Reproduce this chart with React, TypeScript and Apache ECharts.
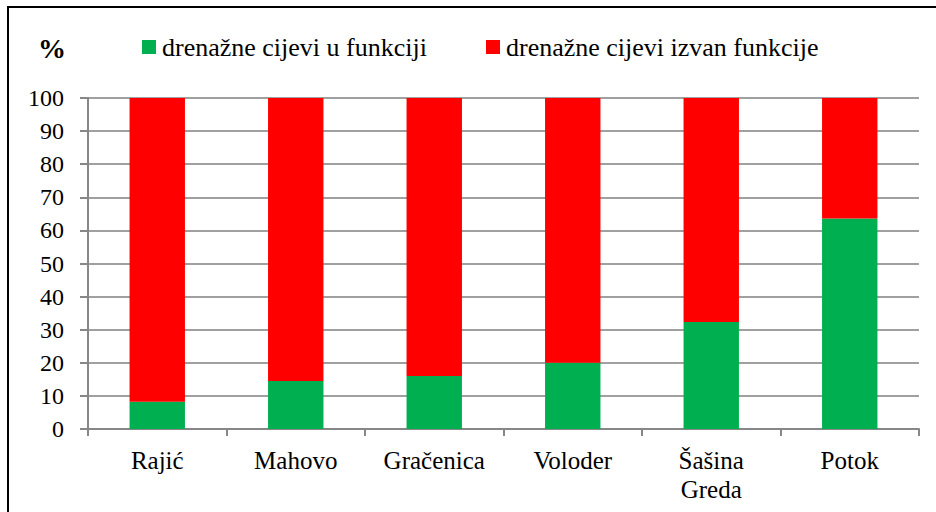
import React, { useEffect, useRef } from "react";
import * as echarts from "echarts";

const categories = ["Rajić", "Mahovo", "Gračenica", "Voloder", "Šašina\nGreda", "Potok"];
const inFunction = [8.2, 14.5, 16, 20, 32.3, 63.6];
const outOfFunction = [91.8, 85.5, 84, 80, 67.7, 36.4];
const seriesNames = ["drenažne cijevi u funkciji", "drenažne cijevi izvan funkcije"];
const seriesColors = ["#00B050", "#FF0000"];
const yTicks = [0, 10, 20, 30, 40, 50, 60, 70, 80, 90, 100];

const FONT = "Liberation Serif";
const GRID = { left: 88, right: 17, top: 98, bottom: 83 };

export default function App() {
  const ref = useRef<HTMLDivElement>(null);
  useEffect(() => {
    document.body.style.margin = "0";
    const chart = echarts.init(ref.current!, null, { renderer: "svg" });
    chart.setOption({
      animation: false,
      backgroundColor: "#ffffff",
      grid: GRID,
      xAxis: {
        type: "category",
        data: categories,
        axisLine: { lineStyle: { color: "#878787", width: 2 } },
        axisTick: { show: true, length: 7, lineStyle: { color: "#878787", width: 2 } },
        axisLabel: { show: false },
      },
      yAxis: {
        type: "value",
        min: 0,
        max: 100,
        interval: 10,
        axisLine: { show: true, lineStyle: { color: "#878787", width: 2 } },
        axisTick: { show: true, length: 8, lineStyle: { color: "#878787", width: 2 } },
        axisLabel: { show: false },
        splitLine: { lineStyle: { color: "#a0a0a0", width: 2 } },
      },
      series: [
        {
          name: seriesNames[0],
          type: "bar",
          stack: "total",
          barWidth: "40%",
          data: inFunction,
          itemStyle: { color: seriesColors[0] },
        },
        {
          name: seriesNames[1],
          type: "bar",
          stack: "total",
          barWidth: "40%",
          data: outOfFunction,
          itemStyle: { color: seriesColors[1] },
        },
      ],
    });

    const graphics: any[] = [
      {
        type: "rect",
        shape: { x: 8, y: 7, width: 960, height: 540 },
        style: { fill: "none", stroke: "#000", lineWidth: 2 },
        silent: true,
      },
      {
        type: "text",
        x: 38,
        y: 48,
        style: {
          text: "%",
          fontFamily: FONT,
          fontSize: 28,
          fontWeight: "bold",
          fill: "#000",
          align: "left",
          textAlign: "left",
          verticalAlign: "middle",
          textVerticalAlign: "middle",
        },
      },
    ];

    const legendIconX = [142, 486];
    seriesNames.forEach((name, i) => {
      graphics.push({
        type: "rect",
        shape: { x: legendIconX[i], y: 40, width: 14, height: 14 },
        style: { fill: seriesColors[i] },
      });
      graphics.push({
        type: "text",
        x: legendIconX[i] + 20,
        y: 47,
        style: {
          text: name,
          fontFamily: FONT,
          fontSize: 26,
          fill: "#000",
          align: "left",
          textAlign: "left",
          verticalAlign: "middle",
          textVerticalAlign: "middle",
        },
      });
    });

    categories.forEach((c, i) => {
      const p = chart.convertToPixel({ gridIndex: 0 }, [i, 0]) as number[];
      if (!p) return;
      graphics.push({
        type: "text",
        x: p[0],
        y: p[1] + 17,
        style: {
          text: c,
          fontFamily: FONT,
          fontSize: 25,
          lineHeight: 29,
          fill: "#000",
          align: "center",
          textAlign: "center",
          verticalAlign: "top",
          textVerticalAlign: "top",
        },
      });
    });

    yTicks.forEach((v) => {
      const p = chart.convertToPixel({ gridIndex: 0 }, [0, v]) as number[];
      if (!p) return;
      graphics.push({
        type: "text",
        x: GRID.left - 24,
        y: p[1],
        style: {
          text: String(v),
          fontFamily: FONT,
          fontSize: 24,
          fill: "#000",
          align: "right",
          textAlign: "right",
          verticalAlign: "middle",
          textVerticalAlign: "middle",
        },
      });
    });

    chart.setOption({ graphic: graphics });
    return () => chart.dispose();
  }, []);
  return <div ref={ref} style={{ width: 936, height: 512 }} />;
}
